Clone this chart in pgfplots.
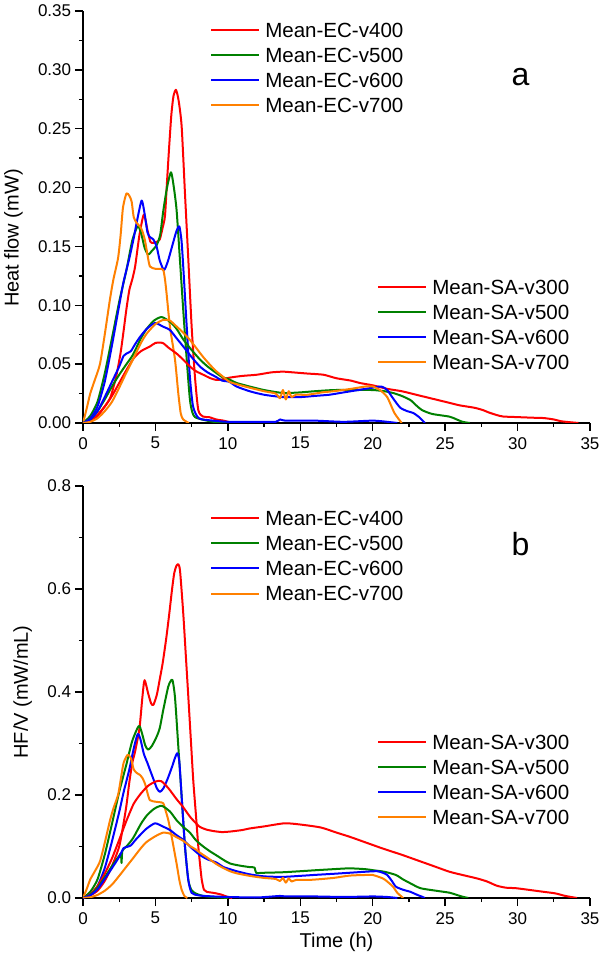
\documentclass[border=0pt]{standalone}
\usepackage{fontspec}
\setmainfont{Liberation Sans}
\usepackage{pgfplots}
\pgfplotsset{compat=1.18}

\definecolor{cred}{RGB}{255,0,0}
\definecolor{cgreen}{RGB}{0,128,0}
\definecolor{cblue}{RGB}{0,0,255}
\definecolor{corange}{RGB}{255,128,0}

\pgfplotsset{
  base/.style={
    scale only axis, width=380.25pt, height=309pt,
    anchor=south west,
    xmin=0, xmax=35,
    axis x line*=bottom, axis y line*=left,
    axis line style={-, line width=1.1pt},
    tick align=outside,
    major tick length=6pt, minor tick length=3pt,
    tick style={line width=1.0pt, black},
    xtick={0,5,10,15,20,25,30,35}, minor x tick num=1, minor y tick num=1,
    tick label style={font=\fontsize{12.75}{14}\selectfont},
    xticklabel style={inner ysep=4.5pt},
    yticklabel style={inner xsep=2.7pt},
    /pgf/number format/assume math mode=true,
    label style={font=\fontsize{15}{17}\selectfont, inner sep=0pt},
    every axis plot post/.append style={line width=1.5pt, line join=round, smooth, tension=0.4},
    legend style={draw=none, fill=none, font=\fontsize{15.4}{17}\selectfont,
      anchor=north west, inner sep=0pt, row sep=8.1pt, column sep=3.75pt,
      nodes={inner sep=0pt, text depth=0pt}},
    legend cell align=left,
    legend image code/.code={\draw[##1, line width=1.5pt] (0pt,0pt) -- (36pt,0pt);},
  },
  sa/.style={base, hide axis},
}

\begin{document}
\begin{tikzpicture}
\useasboundingbox (0,0) rectangle (450pt,715.5pt);

% ---------- panel a ----------
\begin{axis}[base, at={(62.25pt,398.25pt)},
  ymin=0, ymax=0.35, ytick={0,0.05,0.1,0.15,0.2,0.25,0.3,0.35},
  yticklabel style={/pgf/number format/.cd, fixed, fixed zerofill, precision=2},
  ylabel={Heat flow (mW)},
  ylabel style={at={(axis description cs:-0.156,0.449)}, anchor=north},
  legend style={at={(0.2505,0.9718)}}]
\addplot[cred] coordinates {(0,0)(0.5,0.002)(1.0,0.006)(1.5,0.014)(1.9,0.022)(2.3,0.040)(2.6,0.060)(2.8,0.078)(3.0,0.097)(3.2,0.113)(3.4,0.122)(3.6,0.133)(3.9,0.160)(4.2,0.177)(4.45,0.164)(4.65,0.154)(4.85,0.153)(5.1,0.154)(5.3,0.156)(5.5,0.166)(5.66,0.176)(5.8,0.205)(5.95,0.235)(6.1,0.262)(6.25,0.278)(6.42,0.283)(6.6,0.274)(6.81,0.252)(7.04,0.195)(7.27,0.139)(7.5,0.082)(7.73,0.039)(7.96,0.011)(8.28,0.0055)(8.7,0.005)(9.2,0.003)(9.7,0.002)(10.2,0.0005)(10.5,0)};
\addlegendentry{Mean-EC-v400}
\addplot[cgreen] coordinates {(0,0)(0.5,0.006)(1.0,0.018)(1.5,0.042)(2.0,0.072)(2.5,0.103)(3.0,0.130)(3.4,0.155)(3.77,0.167)(4.0,0.162)(4.25,0.149)(4.5,0.143)(4.74,0.146)(5.08,0.151)(5.33,0.160)(5.54,0.180)(5.8,0.200)(6.07,0.213)(6.25,0.202)(6.46,0.181)(6.69,0.139)(6.92,0.096)(7.16,0.054)(7.38,0.020)(7.55,0.009)(7.73,0.005)(8.2,0.003)(9.0,0.001)(10,0)};
\addlegendentry{Mean-EC-v500}
\addplot[cblue] coordinates {(0,0)(0.5,0.004)(1.0,0.014)(1.5,0.035)(2.0,0.066)(2.5,0.100)(2.8,0.120)(3.2,0.140)(3.5,0.157)(3.75,0.173)(4.05,0.189)(4.25,0.178)(4.45,0.162)(4.62,0.158)(4.85,0.156)(5.08,0.150)(5.3,0.138)(5.59,0.130)(5.85,0.137)(6.15,0.150)(6.45,0.163)(6.65,0.167)(6.8,0.155)(6.92,0.133)(7.16,0.082)(7.38,0.039)(7.6,0.014)(8.0,0.004)(9.0,0.002)(10,0.001)(12,0.001)(13.3,0.001)(13.6,0.003)(14,0.002)(16,0.002)(18,0.001)(20,0.002)(21,0.001)(21.7,0)};
\addlegendentry{Mean-EC-v600}
\addplot[corange] coordinates {(0,0)(0.25,0.012)(0.5,0.025)(0.8,0.036)(1.17,0.050)(1.5,0.075)(1.86,0.105)(2.1,0.122)(2.42,0.140)(2.6,0.160)(2.76,0.183)(3.0,0.195)(3.2,0.193)(3.36,0.188)(3.5,0.175)(3.7,0.170)(3.93,0.167)(4.1,0.163)(4.28,0.155)(4.45,0.143)(4.62,0.133)(5.0,0.131)(5.3,0.131)(5.54,0.130)(5.66,0.122)(5.77,0.110)(6.0,0.082)(6.35,0.054)(6.58,0.025)(6.75,0.008)(6.92,0.003)(7.3,0)};
\addlegendentry{Mean-EC-v700}
\node[font=\fontsize{24}{28}\selectfont, anchor=base, inner sep=0pt] at (axis cs:30.2,0.287) {a};
\end{axis}

\begin{axis}[sa, at={(62.25pt,398.25pt)}, ymin=0, ymax=0.35,
  legend style={at={(0.580,0.348)}}]
\addplot[cred] coordinates {(0,0)(0.5,0.002)(1.0,0.007)(1.5,0.014)(2.0,0.023)(2.5,0.034)(3.0,0.045)(3.5,0.055)(4.0,0.061)(4.62,0.065)(5.0,0.068)(5.5,0.068)(5.9,0.064)(6.46,0.059)(6.9,0.054)(7.38,0.048)(7.8,0.044)(8.3,0.041)(8.8,0.038)(9.2,0.0366)(9.6,0.037)(10.1,0.0385)(11.0,0.040)(12.0,0.041)(13.0,0.043)(13.8,0.0436)(14.5,0.043)(15.5,0.042)(16.6,0.041)(17.5,0.038)(18.5,0.036)(19.1,0.034)(20.0,0.032)(21.0,0.029)(22.0,0.027)(23.0,0.024)(24.0,0.021)(25.0,0.018)(26.0,0.015)(27.0,0.013)(27.6,0.011)(28.0,0.009)(28.55,0.0068)(29.0,0.0055)(30.0,0.005)(31.0,0.0045)(31.8,0.0042)(32.5,0.003)(33.0,0.0015)(33.5,0.0008)(34.2,0)};
\addlegendentry{Mean-SA-v300}
\addplot[cgreen] coordinates {(0,0)(0.5,0.003)(1.0,0.010)(1.5,0.020)(2.0,0.031)(2.5,0.041)(3.0,0.050)(3.45,0.058)(4.0,0.072)(4.4,0.080)(4.9,0.087)(5.43,0.090)(6.0,0.086)(6.46,0.080)(6.92,0.071)(7.5,0.062)(8.07,0.054)(8.6,0.048)(9.2,0.0425)(9.6,0.039)(10.1,0.037)(10.6,0.034)(11.5,0.031)(12.5,0.028)(13.8,0.0255)(15.0,0.026)(16.0,0.027)(17.3,0.028)(18.5,0.028)(20.0,0.028)(20.8,0.027)(21.4,0.0255)(22.0,0.023)(22.6,0.0195)(23.0,0.015)(23.4,0.011)(24.1,0.0077)(25.3,0.0054)(25.8,0.003)(26.2,0.001)(26.7,0)};
\addlegendentry{Mean-SA-v500}
\addplot[cblue] coordinates {(0,0)(0.5,0.003)(1.0,0.010)(1.5,0.022)(2.0,0.035)(2.5,0.048)(2.8,0.057)(3.0,0.059)(3.3,0.061)(3.6,0.067)(3.93,0.073)(4.4,0.080)(4.97,0.085)(5.5,0.082)(6.0,0.079)(6.46,0.072)(6.92,0.065)(7.5,0.056)(8.07,0.048)(8.6,0.043)(9.2,0.039)(9.6,0.036)(10.1,0.035)(10.6,0.031)(11.5,0.027)(12.5,0.024)(13.8,0.022)(15.0,0.022)(16.0,0.023)(17.0,0.024)(18.0,0.026)(19.0,0.028)(20.0,0.030)(20.6,0.031)(21.0,0.028)(21.4,0.021)(21.9,0.013)(22.4,0.010)(22.8,0.0085)(23.2,0.005)(23.6,0)};
\addlegendentry{Mean-SA-v600}
\addplot[corange] coordinates {(0,0)(0.5,0.001)(1.0,0.004)(1.5,0.010)(2.0,0.018)(2.5,0.030)(3.0,0.043)(3.45,0.054)(4.0,0.068)(4.4,0.076)(5.0,0.084)(5.54,0.0876)(6.0,0.087)(6.46,0.082)(6.9,0.077)(7.38,0.0706)(7.8,0.064)(8.3,0.056)(8.8,0.049)(9.2,0.044)(9.6,0.040)(10.1,0.035)(10.6,0.033)(11.5,0.030)(12.5,0.027)(13.3,0.025)(13.6,0.021)(13.8,0.028)(14.0,0.020)(14.2,0.027)(14.4,0.022)(14.7,0.024)(15.5,0.024)(16.5,0.026)(17.3,0.027)(18.5,0.029)(19.5,0.031)(20.0,0.031)(20.5,0.028)(21.0,0.022)(21.5,0.0085)(22.0,0)};
\addlegendentry{Mean-SA-v700}
\end{axis}

% ---------- panel b ----------
\begin{axis}[base, at={(62.25pt,42pt)},
  ymin=0, ymax=0.8, ytick={0,0.2,0.4,0.6,0.8},
  yticklabel style={/pgf/number format/.cd, fixed, fixed zerofill, precision=1},
  ylabel={HF/V (mW/mL)},
  ylabel style={at={(axis description cs:-0.138,0.5)}, anchor=north},
  xlabel={Time (h)},
  xlabel style={at={(axis description cs:0.5,-0.085)}, anchor=north},
  legend style={at={(0.2505,0.940)}}]
\addplot[cred] coordinates {(0,0)(0.5,0.005)(1.0,0.014)(1.5,0.033)(2.0,0.062)(2.5,0.100)(2.8,0.145)(3.0,0.180)(3.2,0.225)(3.4,0.262)(3.6,0.285)(3.9,0.330)(4.1,0.390)(4.25,0.423)(4.5,0.397)(4.7,0.378)(4.86,0.375)(5.1,0.395)(5.3,0.425)(5.5,0.456)(5.75,0.505)(5.96,0.553)(6.15,0.600)(6.3,0.631)(6.45,0.645)(6.58,0.648)(6.7,0.635)(6.92,0.553)(7.1,0.470)(7.27,0.391)(7.45,0.305)(7.61,0.229)(7.8,0.160)(7.96,0.100)(8.1,0.060)(8.2,0.035)(8.35,0.016)(8.54,0.012)(9.0,0.010)(9.5,0.007)(10.0,0.002)(10.3,0)};
\addlegendentry{Mean-EC-v400}
\addplot[cgreen] coordinates {(0,0)(0.5,0.012)(1.0,0.036)(1.5,0.084)(2.0,0.144)(2.5,0.206)(3.0,0.260)(3.4,0.305)(3.85,0.334)(4.05,0.322)(4.3,0.296)(4.5,0.288)(4.75,0.295)(5.08,0.313)(5.3,0.330)(5.54,0.365)(5.88,0.410)(6.05,0.421)(6.18,0.423)(6.35,0.390)(6.58,0.294)(6.81,0.197)(7.04,0.100)(7.27,0.035)(7.5,0.015)(7.84,0.008)(8.3,0.004)(9.0,0.002)(10,0)};
\addlegendentry{Mean-EC-v500}
\addplot[cblue] coordinates {(0,0)(0.5,0.007)(1.0,0.023)(1.5,0.058)(2.0,0.110)(2.5,0.167)(2.8,0.205)(3.2,0.250)(3.5,0.290)(3.77,0.318)(3.95,0.310)(4.2,0.280)(4.45,0.262)(4.62,0.249)(4.9,0.228)(5.1,0.213)(5.31,0.206)(5.55,0.213)(5.85,0.232)(6.15,0.255)(6.35,0.272)(6.51,0.281)(6.65,0.265)(6.81,0.197)(7.04,0.100)(7.27,0.035)(7.5,0.010)(8.0,0.005)(9.0,0.003)(10,0.002)(12,0.001)(13.6,0.004)(14,0.003)(16,0.003)(18,0.002)(20,0.003)(21,0.002)(21.7,0)};
\addlegendentry{Mean-EC-v600}
\addplot[corange] coordinates {(0,0)(0.25,0.017)(0.5,0.036)(0.8,0.051)(1.17,0.071)(1.5,0.107)(1.86,0.150)(2.1,0.174)(2.42,0.200)(2.6,0.229)(2.8,0.262)(3.08,0.278)(3.3,0.272)(3.5,0.250)(3.7,0.243)(3.93,0.239)(4.1,0.233)(4.28,0.222)(4.45,0.204)(4.62,0.190)(5.0,0.187)(5.3,0.186)(5.54,0.184)(5.7,0.170)(5.89,0.151)(6.12,0.119)(6.46,0.067)(6.65,0.035)(6.81,0.016)(7.0,0.004)(7.2,0)};
\addlegendentry{Mean-EC-v700}
\node[font=\fontsize{24}{28}\selectfont, anchor=base, inner sep=0pt] at (axis cs:30.2,0.666) {b};
\end{axis}

\begin{axis}[sa, at={(62.25pt,42pt)}, ymin=0, ymax=0.8,
  legend style={at={(0.580,0.397)}}]
\addplot[cred] coordinates {(0,0)(0.5,0.007)(1.0,0.023)(1.5,0.047)(2.0,0.077)(2.5,0.113)(3.0,0.150)(3.5,0.183)(4.0,0.203)(4.5,0.218)(5.0,0.226)(5.4,0.227)(5.9,0.213)(6.46,0.192)(6.9,0.177)(7.38,0.158)(7.8,0.145)(8.07,0.138)(8.5,0.133)(9.0,0.130)(9.6,0.128)(10.15,0.129)(11.0,0.132)(11.5,0.135)(12.5,0.139)(13.9,0.145)(14.9,0.143)(16.4,0.137)(17.5,0.127)(18.4,0.119)(19.5,0.108)(20.7,0.096)(22.0,0.084)(23.0,0.074)(24.2,0.062)(25.3,0.051)(26.3,0.044)(27.2,0.038)(27.9,0.032)(28.55,0.024)(29.2,0.020)(29.9,0.019)(31.0,0.015)(31.8,0.012)(32.6,0.009)(33.3,0.004)(34.1,0)};
\addlegendentry{Mean-SA-v300}
\addplot[cgreen] coordinates {(0,0)(0.5,0.006)(1.0,0.020)(1.5,0.040)(2.0,0.062)(2.5,0.082)(2.62,0.086)(2.66,0.068)(2.72,0.092)(3.0,0.100)(3.45,0.116)(4.0,0.144)(4.4,0.160)(4.9,0.173)(5.43,0.179)(6.0,0.168)(6.46,0.151)(6.92,0.138)(7.38,0.127)(7.8,0.112)(8.3,0.100)(8.8,0.090)(9.2,0.083)(9.7,0.074)(10.15,0.067)(10.8,0.063)(11.5,0.060)(11.85,0.059)(11.95,0.049)(12.5,0.049)(13.8,0.050)(15.0,0.052)(16.1,0.054)(17.3,0.056)(18.4,0.0576)(19.5,0.056)(20.0,0.054)(20.8,0.051)(21.6,0.0447)(22.1,0.036)(22.6,0.0285)(23.3,0.019)(24.4,0.014)(25.3,0.0103)(25.8,0.006)(26.2,0.0025)(26.6,0)};
\addlegendentry{Mean-SA-v500}
\addplot[cblue] coordinates {(0,0)(0.5,0.005)(1.0,0.017)(1.5,0.037)(2.0,0.058)(2.5,0.080)(2.8,0.097)(3.0,0.099)(3.3,0.102)(3.6,0.112)(3.93,0.122)(4.4,0.135)(4.97,0.145)(5.5,0.139)(6.0,0.132)(6.46,0.122)(6.92,0.113)(7.5,0.097)(8.07,0.0835)(8.6,0.075)(9.2,0.069)(9.7,0.060)(10.15,0.056)(10.6,0.052)(11.5,0.046)(12.5,0.042)(13.8,0.041)(15.0,0.043)(16.1,0.045)(17.3,0.047)(18.4,0.049)(19.5,0.051)(20.3,0.052)(20.7,0.049)(21.0,0.0447)(21.3,0.034)(21.6,0.022)(22.1,0.016)(22.6,0.012)(23.0,0.007)(23.4,0.0025)(23.6,0)};
\addlegendentry{Mean-SA-v600}
\addplot[corange] coordinates {(0,0)(0.5,0.0015)(1.0,0.006)(1.5,0.014)(2.0,0.026)(2.5,0.043)(3.0,0.061)(3.45,0.077)(4.0,0.097)(4.4,0.109)(5.0,0.120)(5.54,0.127)(6.0,0.125)(6.46,0.118)(6.92,0.111)(7.38,0.101)(7.8,0.094)(8.07,0.088)(8.6,0.078)(9.2,0.066)(9.7,0.058)(10.15,0.052)(10.6,0.048)(11.5,0.043)(12.5,0.039)(13.3,0.037)(13.6,0.033)(13.8,0.039)(14.0,0.030)(14.2,0.038)(14.4,0.032)(14.7,0.035)(15.5,0.035)(16.1,0.036)(17.3,0.039)(18.4,0.0435)(19.5,0.0447)(20.0,0.0447)(20.7,0.038)(21.0,0.032)(21.4,0.022)(21.7,0.010)(22.0,0.0025)(22.1,0)};
\addlegendentry{Mean-SA-v700}
\end{axis}
\end{tikzpicture}
\end{document}
